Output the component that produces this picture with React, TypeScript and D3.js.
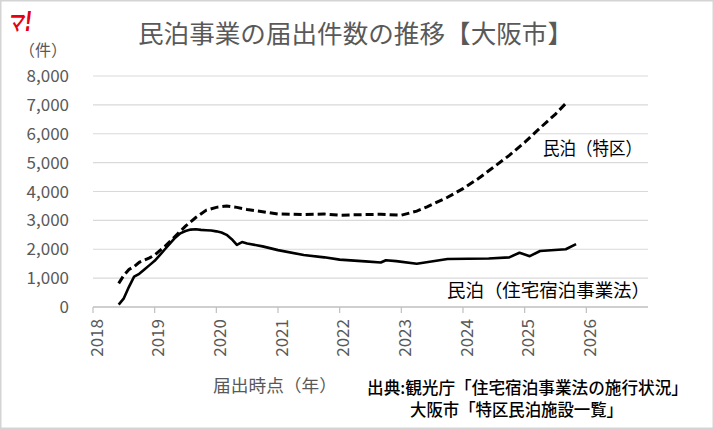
import React from "react";
import * as d3 from "d3";

const W = 714, H = 429;
const yTicks = [0, 1000, 2000, 3000, 4000, 5000, 6000, 7000, 8000];
const xTicks = [2018, 2019, 2020, 2021, 2022, 2023, 2024, 2025, 2026];

const lawDates = ["2018-06","2018-07","2018-08","2018-09","2018-10","2018-11","2018-12","2019-01","2019-02","2019-03","2019-04","2019-05","2019-06","2019-07","2019-08","2019-09","2019-10","2019-11","2019-12","2020-01","2020-02","2020-03","2020-04","2020-05","2020-06","2020-07","2020-10","2021-01","2021-06","2021-10","2022-01","2022-06","2022-09","2022-10","2022-12","2023-04","2023-10","2024-06","2024-10","2024-12","2025-02","2025-04","2025-09","2025-11"];
const lawValues = [80,300,700,1050,1150,1300,1450,1600,1800,2000,2200,2400,2550,2630,2680,2690,2670,2660,2650,2620,2580,2500,2350,2150,2250,2200,2100,1970,1800,1720,1640,1580,1540,1620,1590,1500,1660,1680,1720,1880,1760,1940,2000,2180];

const tokkuDates = ["2018-06","2018-07","2018-08","2018-09","2018-10","2018-12","2019-01","2019-03","2019-05","2019-07","2019-09","2019-11","2020-01","2020-03","2020-05","2020-07","2020-10","2021-01","2021-06","2021-10","2022-01","2022-06","2022-09","2023-01","2023-04","2023-06","2023-10","2024-01","2024-04","2024-07","2024-10","2025-01","2025-04","2025-07","2025-09"];
const tokkuValues = [820,1100,1300,1400,1550,1700,1800,2100,2450,2800,3100,3350,3450,3500,3450,3380,3300,3220,3200,3220,3180,3200,3210,3180,3320,3470,3800,4100,4450,4850,5250,5700,6200,6680,7050];

const toYear = (s: string) => {
  const [y, m] = s.split("-").map(Number);
  return y + (m - 1) / 12;
};

const FONT = "'Noto Sans CJK JP', 'Noto Sans', sans-serif";
const GRAY = "#595959";

export default function App() {
  const x = d3.scaleLinear().domain([2018, 2027]).range([93, 648]);
  const y = d3.scaleLinear().domain([0, 8000]).range([307, 76]);
  const line = d3.line<[number, number]>().x(d => x(d[0])).y(d => y(d[1])).curve(d3.curveLinear);
  const lawPts = lawDates.map((d, i) => [toYear(d), lawValues[i]] as [number, number]);
  const tokkuPts = tokkuDates.map((d, i) => [toYear(d), tokkuValues[i]] as [number, number]);

  return (
    <svg width={W} height={H} style={{ position: "fixed", left: 0, top: 0, background: "#fff" }} fontFamily={FONT}>
      <rect x={0.5} y={0.5} width={W - 1} height={H - 1} fill="#fff" stroke="#d4d4d4" strokeWidth={2} />
      <text x={8} y={31} fill="#e60012" fontSize={26} fontWeight="bold" fontStyle="italic" fontFamily="'DejaVu Sans', sans-serif" textLength={24} lengthAdjust="spacingAndGlyphs">マ!</text>
      <text x={138} y={43} fill={GRAY} fontSize={25} textLength={435} lengthAdjust="spacingAndGlyphs">民泊事業の届出件数の推移【大阪市】</text>
      <text x={43} y={56} textAnchor="middle" fill={GRAY} fontSize={16}>（件）</text>
      {yTicks.map(t => (
        <g key={t}>
          <line x1={93} x2={648} y1={y(t)} y2={y(t)} stroke={t === 0 ? "#bfbfbf" : "#d9d9d9"} strokeWidth={t === 0 ? 1.5 : 1.2} />
          <text x={69} y={y(t)} dy="0.36em" textAnchor="end" fill={GRAY} fontSize={17}>{d3.format(",")(t)}</text>
        </g>
      ))}
      {xTicks.map(t => (
        <g key={t}>
          <line x1={x(t)} x2={x(t)} y1={307} y2={313} stroke="#bfbfbf" strokeWidth={1.2} />
          <text transform={`translate(${x(t) + 2},319) rotate(-90)`} textAnchor="end" dominantBaseline="central" fill={GRAY} fontSize={17}>{t}</text>
        </g>
      ))}
      <path d={line(tokkuPts) || ""} fill="none" stroke="#000" strokeWidth={3} strokeDasharray="8,4" />
      <path d={line(lawPts) || ""} fill="none" stroke="#000" strokeWidth={2.6} strokeLinejoin="round" />
      <text x={543} y={155} fill="#000" fontSize={18} textLength={99} lengthAdjust="spacingAndGlyphs">民泊（特区）</text>
      <text x={447} y={297} fill="#000" fontSize={18} textLength={203} lengthAdjust="spacingAndGlyphs">民泊（住宅宿泊事業法）</text>
      <text x={213} y={392} fill={GRAY} fontSize={17} textLength={124} lengthAdjust="spacingAndGlyphs">届出時点（年）</text>
      <text x={367} y={394} fill="#000" fontSize={16.5} fontWeight="500" textLength={321} lengthAdjust="spacingAndGlyphs">出典:観光庁「住宅宿泊事業法の施行状況」</text>
      <text x={410} y={416} fill="#000" fontSize={16.5} fontWeight="500" textLength={213} lengthAdjust="spacingAndGlyphs">大阪市「特区民泊施設一覧」</text>
    </svg>
  );
}
